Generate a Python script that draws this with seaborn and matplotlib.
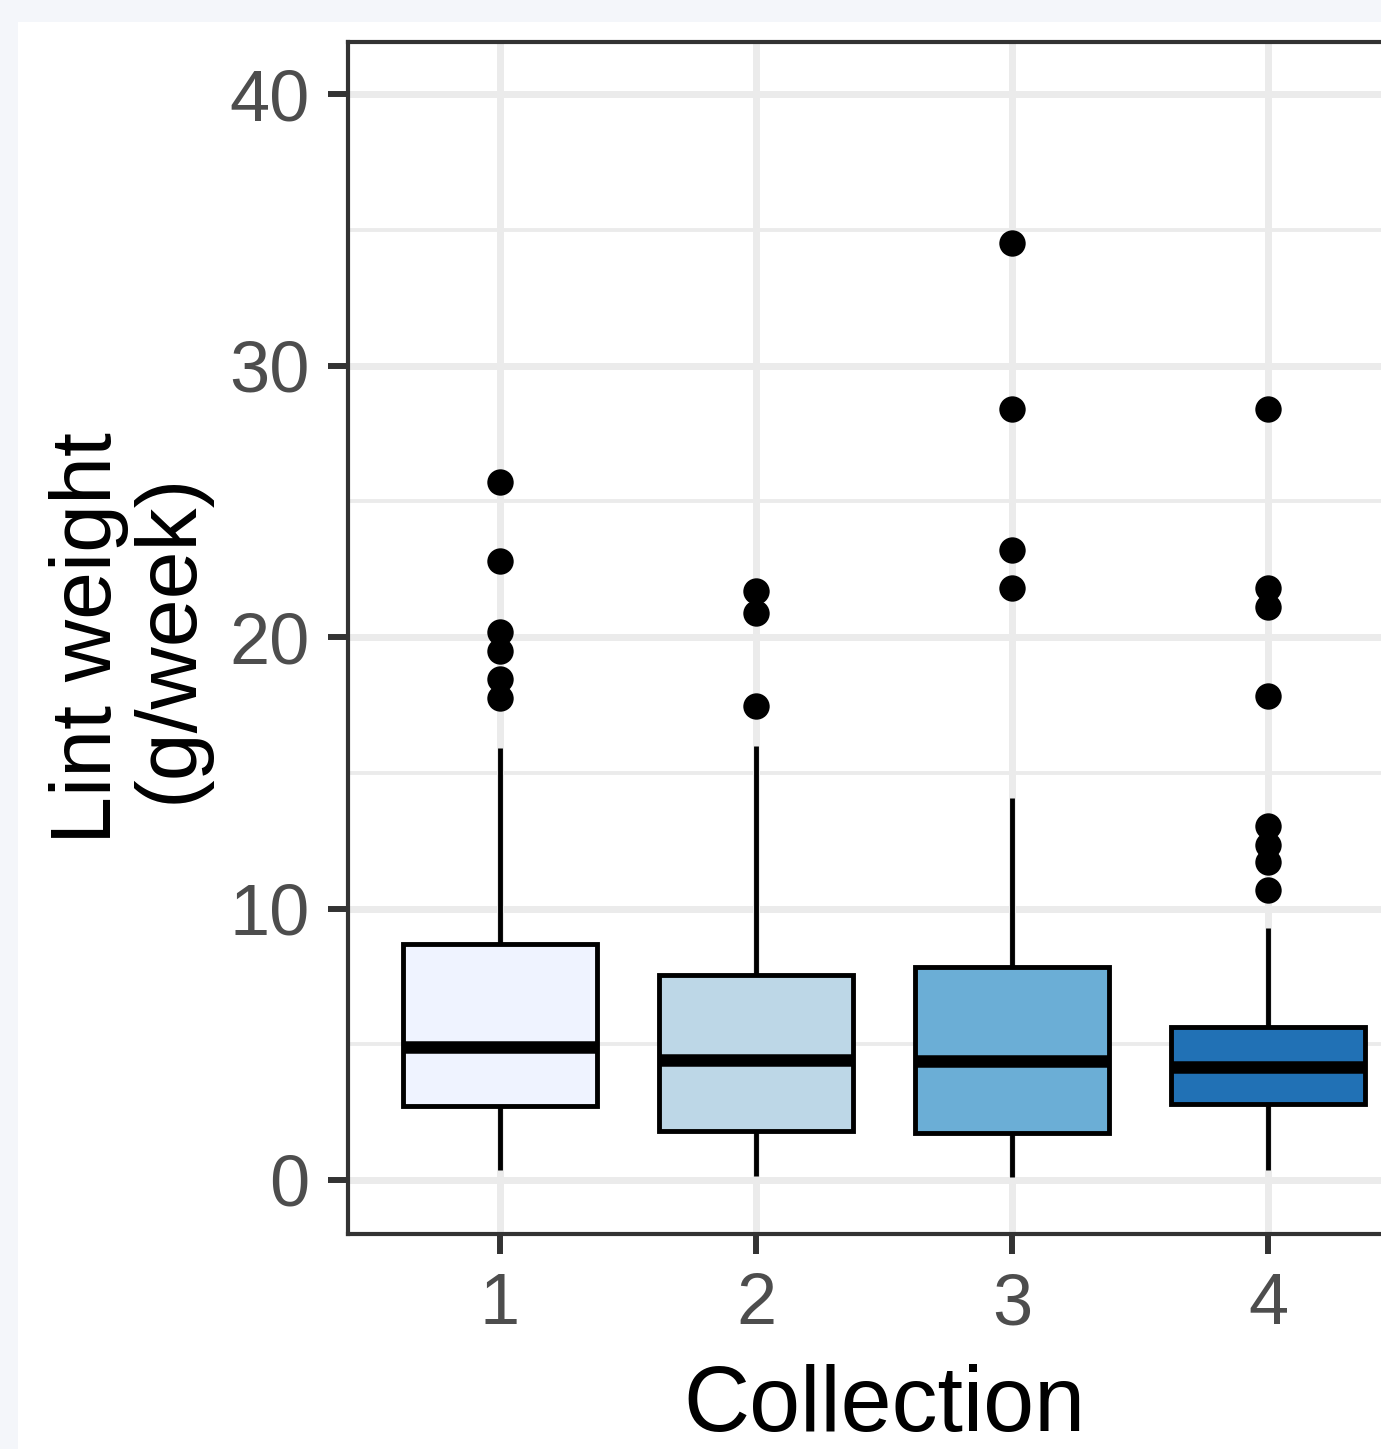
import pandas as pd
import matplotlib.pyplot as plt
import seaborn as sns
from matplotlib.patches import Rectangle

# Valores (g/semana)
colecciones = ["1", "2", "3", "4"]
bigote_inf = [0.37, 0.15, 0.10, 0.37]
q1 = [2.73, 1.80, 1.73, 2.80]
mediana = [4.90, 4.42, 4.38, 4.16]
q3 = [8.69, 7.55, 7.85, 5.64]
bigote_sup = [15.90, 16.00, 14.07, 9.28]
atipicos = {
    "1": [25.7, 22.8, 20.2, 19.5, 18.45, 17.75],
    "2": [21.7, 20.9, 17.46],
    "3": [34.5, 28.4, 23.2, 21.8],
    "4": [28.4, 21.8, 21.1, 17.83, 13.04, 12.34, 11.7, 10.68],
}
colores = ["#EFF3FF", "#BDD7E7", "#6BAED6", "#2171B5"]

# Cinco números por caja (q1 y q3 repetidos para que los percentiles caigan exactos)
filas = []
for i, c in enumerate(colecciones):
    for v in [bigote_inf[i], q1[i], q1[i], mediana[i], q3[i], q3[i], bigote_sup[i]]:
        filas.append({"Collection": c, "peso": v})
df_cajas = pd.DataFrame(filas)
df_atip = pd.DataFrame(
    [{"Collection": c, "peso": v} for c in colecciones for v in atipicos[c]]
)

sns.set_theme(style="whitegrid")
plt.rcParams["font.family"] = ["Liberation Sans", "DejaVu Sans"]

fig = plt.figure(figsize=(13.81, 14.49), dpi=100)
fig.patch.set_facecolor("#F4F6FA")
fondo = Rectangle((18 / 1381, 0), 1, 1 - 22 / 1449, transform=fig.transFigure,
                  facecolor="white", edgecolor="none", zorder=-10)
fig.add_artist(fondo)

ax = fig.add_axes([348 / 1381, 1 - 1234 / 1449, 1072 / 1381, 1192 / 1449])
ax.set_zorder(1)
ax.set_facecolor("white")

sns.boxplot(data=df_cajas, x="Collection", y="peso", hue="Collection",
            order=colecciones, palette=colores, saturation=1, legend=False,
            width=0.76, whis=(0, 100), showcaps=False, showfliers=False,
            linecolor="black", linewidth=3.5,
            medianprops={"linewidth": 9, "color": "black"}, ax=ax, zorder=3)
sns.stripplot(data=df_atip, x="Collection", y="peso", order=colecciones,
              jitter=False, color="black", size=19, linewidth=0, ax=ax, zorder=4)

ax.set_xlim(-0.594, 3.594)
ax.set_ylim(-1.99, 41.92)
ax.set_yticks([0, 10, 20, 30, 40])
ax.set_yticks([5, 15, 25, 35], minor=True)

ax.grid(which="major", color="#EBEBEB", linewidth=5)
ax.grid(which="minor", axis="y", color="#EBEBEB", linewidth=2.8)
ax.set_axisbelow(True)

for s in ax.spines.values():
    s.set_color("#333333")
    s.set_linewidth(3)

ax.tick_params(which="major", direction="out", length=14.5, width=4.3,
               color="#333333", labelcolor="#4D4D4D", labelsize=52, pad=13,
               bottom=True, left=True)
ax.tick_params(which="minor", length=0)

ax.set_xlabel("Collection", fontsize=66, color="black", labelpad=18)
ax.set_ylabel("Lint weight\n(g/week)", fontsize=62, color="black",
              labelpad=14, linespacing=1.02)

fig.savefig("out.png", dpi=100, facecolor=fig.get_facecolor())
